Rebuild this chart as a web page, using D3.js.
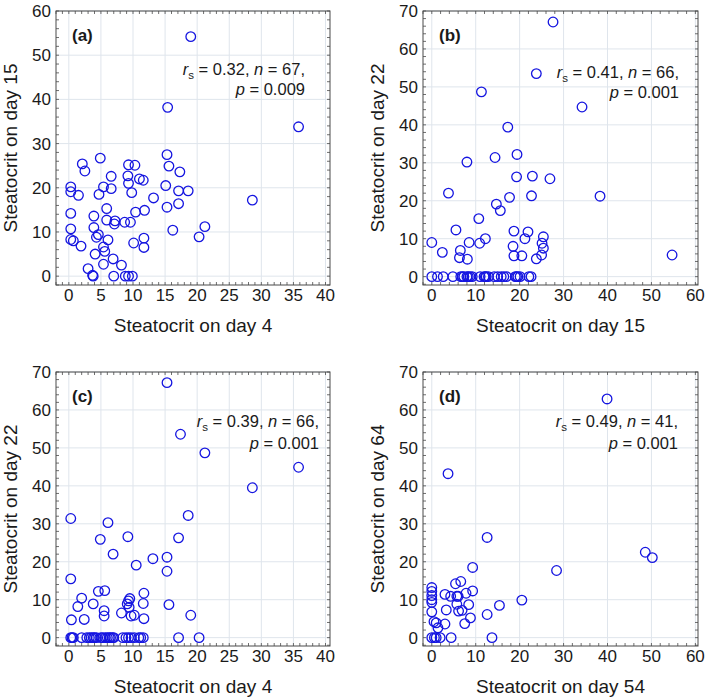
<!DOCTYPE html>
<html><head><meta charset="utf-8">
<script src="https://cdn.jsdelivr.net/npm/d3@7"></script>
<style>body{margin:0;background:#fff} svg{display:block;font-family:Arial,"Liberation Sans",sans-serif}</style>
</head><body>
<svg id="chart" width="709" height="698"></svg>
<script>
// ---- data ----
const aX = [19.0,15.4,35.8,15.3,15.6,17.3,15.1,15.3,17.1,17.1,18.6,16.2,20.3,21.2,28.6,13.2,11.8,11.6,11.0,11.7,11.7,10.1,10.4,10.3,9.3,9.2,9.3,9.8,9.6,8.7,7.2,7.1,5.9,5.9,6.6,6.6,5.4,4.7,4.9,2.1,2.5,0.3,0.3,1.5,0.3,0.3,0.3,0.7,1.9,3.9,3.9,4.3,4.6,6.1,5.4,5.6,4.1,6.9,5.4,8.2,3.0,3.7,3.8,7.0,8.8,9.3,9.9];
const aY = [54.2,38.2,33.8,27.5,24.9,23.6,20.5,15.6,16.4,19.3,19.3,10.4,8.9,11.2,17.2,17.7,14.9,21.7,22.0,8.6,6.5,7.5,14.5,25.1,25.2,22.7,21.0,18.9,12.2,12.2,12.5,11.8,15.3,12.7,22.6,19.8,20.2,18.5,26.7,25.4,23.8,20.2,19.1,18.3,14.2,10.7,8.3,8.0,6.8,13.6,11.0,8.8,9.4,8.2,6.6,5.6,5.0,3.9,2.7,2.5,1.7,0.2,0,0,0,0,0];

const bX = [27.6,23.8,11.3,34.2,17.3,8.0,14.4,19.4,19.3,22.9,26.9,3.8,38.3,22.7,17.7,14.7,15.6,10.7,5.5,18.7,21.9,25.4,21.2,12.2,10.9,8.5,0,2.4,6.5,6.3,8.1,18.5,18.7,20.5,23.8,25.0,25.1,25.4,54.7,
            0,1.3,2.6,4.8,6.6,7.0,7.3,8.0,8.3,8.7,9.2,11.0,11.9,12.2,12.4,12.9,14.2,15.0,15.8,16.4,17.0,19.0,19.3,19.6,20.1,22.1,22.6];
const bY = [67.1,53.5,48.7,44.7,39.4,30.2,31.4,32.2,26.3,26.5,25.8,22.0,21.2,21.3,20.9,19.1,17.4,15.3,12.3,12.0,11.8,10.5,10.0,10.0,8.8,9.0,9.0,6.4,6.9,5.0,4.6,8.0,5.5,5.5,4.7,5.7,8.8,7.5,5.7,
            0,0,0,0,0,0,0,0,0,0,0,0,0,0,0,0,0,0,0,0,0,0,0,0,0,0,0];

const cX = [15.3,17.4,21.2,35.8,28.6,18.6,0.3,6.1,4.9,9.2,17.1,6.9,13.1,15.3,10.5,15.3,0.3,4.6,5.6,11.7,2.0,9.5,9.3,3.8,9.1,11.6,15.6,1.4,9.4,5.5,8.2,5.5,9.7,10.2,19.0,0.4,2.4,11.7,
            0.3,0.5,0.7,2.0,2.8,3.2,3.5,3.8,4.0,4.3,5.0,5.3,5.7,6.0,6.3,6.5,6.8,7.0,8.4,8.9,9.3,9.7,10.2,10.9,11.2,11.6,17.1,20.3];
const cY = [67.2,53.6,48.7,44.9,39.5,32.2,31.4,30.3,25.9,26.6,26.3,22.0,20.8,21.2,19.1,17.5,15.5,12.2,12.4,11.7,10.4,10.3,9.7,8.9,8.9,9.0,8.7,8.2,8.0,7.1,6.5,5.7,5.7,5.9,5.9,4.7,4.8,5.0,
            0,0,0,0,0,0,0,0,0,0,0,0,0,0,0,0,0,0,0,0,0,0,0,0,0,0,0,0];

const dX = [39.9,3.7,12.6,28.4,48.6,50.2,9.3,20.5,15.4,12.6,13.7,9.3,6.6,5.4,7.8,5.7,4.3,3.0,8.4,5.7,3.3,6.1,6.9,8.8,7.5,3.0,0,0,0,0,0,0,1.0,1.4,0,1.0,1.9,4.4,0.6,0.5,6.0];
const dY = [62.9,43.2,26.4,17.7,22.5,21.1,18.5,9.9,8.5,6.1,0,12.3,14.8,14.2,11.7,10.9,10.9,11.4,8.7,8.8,7.3,7.0,7.2,5.2,3.7,3.6,13.2,12.2,11.1,10.0,9.3,6.8,3.9,2.6,0,0,0,0,0,4.2,10.9];

const panelLabels = ["(a)", "(b)", "(c)", "(d)"];
const xTitles = ["Steatocrit on day 4", "Steatocrit on day 15", "Steatocrit on day 4", "Steatocrit on day 54"];
const yTitles = ["Steatocrit on day 15", "Steatocrit on day 22", "Steatocrit on day 22", "Steatocrit on day 64"];
const rsValues = ["0.32", "0.41", "0.39", "0.49"];
const nValues = ["67", "66", "66", "41"];
const pValues = ["0.009", "0.001", "0.001", "0.001"];
const xTicks40 = [0, 5, 10, 15, 20, 25, 30, 35, 40];
const xTicks60 = [0, 10, 20, 30, 40, 50, 60];
const yTicks60 = [0, 10, 20, 30, 40, 50, 60];
const yTicks70 = [0, 10, 20, 30, 40, 50, 60, 70];

// ---- layout ----
const panels = [
  {xs: aX, ys: aY, L: 56,  R: 330, T: 11,  B: 285, xd: [-2, 40.7], yd: [-2, 60],   xt: xTicks40, yt: yTicks60, xm: 1, ym: 2, annR: 305, ann1: 75,  ann2: 95},
  {xs: bX, ys: bY, L: 423, R: 698, T: 11,  B: 285, xd: [-2, 60.6], yd: [-2.2, 70], xt: xTicks60, yt: yTicks70, xm: 2, ym: 2, annR: 679, ann1: 78,  ann2: 98},
  {xs: cX, ys: cY, L: 56,  R: 330, T: 372, B: 646, xd: [-2, 40.7], yd: [-2.2, 70], xt: xTicks40, yt: yTicks70, xm: 1, ym: 2, annR: 319, ann1: 427, ann2: 449},
  {xs: dX, ys: dY, L: 423, R: 698, T: 372, B: 646, xd: [-2, 60.6], yd: [-2.2, 70], xt: xTicks60, yt: yTicks70, xm: 2, ym: 2, annR: 678, ann1: 427, ann2: 449}
];

const svg = d3.select("#chart");
const textColor = "#1a1a1a";
const gridColor = "#dfe5ec";
const frameColor = "#4a4a4a";
const markColor = "#1515e0";

panels.forEach((p, i) => {
  const x = d3.scaleLinear().domain(p.xd).range([p.L, p.R]);
  const y = d3.scaleLinear().domain(p.yd).range([p.B, p.T]);
  const g = svg.append("g");

  // grid
  g.selectAll(".vg").data(p.xt).join("line")
    .attr("x1", d => x(d)).attr("x2", d => x(d)).attr("y1", p.T).attr("y2", p.B)
    .attr("stroke", gridColor).attr("stroke-width", 1);
  g.selectAll(".hg").data(p.yt).join("line")
    .attr("y1", d => y(d)).attr("y2", d => y(d)).attr("x1", p.L).attr("x2", p.R)
    .attr("stroke", gridColor).attr("stroke-width", 1);

  // minor ticks (inward on all sides)
  const xm = d3.range(Math.ceil(p.xd[0] / p.xm) * p.xm, p.xd[1] + 1e-9, p.xm);
  const ym = d3.range(Math.ceil(p.yd[0] / p.ym) * p.ym, p.yd[1] + 1e-9, p.ym);
  const tk = g.append("g").attr("stroke", frameColor).attr("stroke-width", 0.8);
  xm.forEach(v => {
    tk.append("line").attr("x1", x(v)).attr("x2", x(v)).attr("y1", p.B).attr("y2", p.B - 3);
    tk.append("line").attr("x1", x(v)).attr("x2", x(v)).attr("y1", p.T).attr("y2", p.T + 3);
  });
  ym.forEach(v => {
    tk.append("line").attr("y1", y(v)).attr("y2", y(v)).attr("x1", p.L).attr("x2", p.L + 3);
    tk.append("line").attr("y1", y(v)).attr("y2", y(v)).attr("x1", p.R).attr("x2", p.R - 3);
  });

  // frame
  g.append("rect").attr("x", p.L).attr("y", p.T).attr("width", p.R - p.L).attr("height", p.B - p.T)
    .attr("fill", "none").attr("stroke", frameColor).attr("stroke-width", 1);

  // tick labels
  g.selectAll(".xl").data(p.xt).join("text")
    .attr("x", d => x(d)).attr("y", p.B + 16)
    .attr("text-anchor", "middle").attr("font-size", 17).attr("fill", textColor)
    .text(d => d);
  g.selectAll(".yl").data(p.yt).join("text")
    .attr("x", p.L - 5).attr("y", d => y(d) + 6)
    .attr("text-anchor", "end").attr("font-size", 17).attr("fill", textColor)
    .text(d => d);

  // axis titles
  g.append("text").attr("x", (p.L + p.R) / 2).attr("y", p.B + 46.5)
    .attr("text-anchor", "middle").attr("font-size", 19).attr("fill", textColor)
    .text(xTitles[i]);
  g.append("text")
    .attr("transform", `translate(${p.L - 39},${(p.T + p.B) / 2}) rotate(-90)`)
    .attr("text-anchor", "middle").attr("font-size", 19).attr("fill", textColor)
    .text(yTitles[i]);

  // panel label
  g.append("text").attr("x", p.L + 16).attr("y", p.T + 30)
    .attr("font-size", 17).attr("font-weight", "bold").attr("fill", textColor)
    .text(panelLabels[i]);

  // annotation
  const t1 = g.append("text").attr("x", p.annR).attr("y", p.ann1)
    .attr("text-anchor", "end").attr("font-size", 16.5).attr("fill", textColor);
  t1.append("tspan").attr("font-style", "italic").text("r");
  t1.append("tspan").attr("font-size", 11.5).attr("dy", 4).text("s");
  t1.append("tspan").attr("dy", -4).text(` = ${rsValues[i]}, `);
  t1.append("tspan").attr("font-style", "italic").text("n");
  t1.append("tspan").text(` = ${nValues[i]},`);
  const t2 = g.append("text").attr("x", p.annR).attr("y", p.ann2)
    .attr("text-anchor", "end").attr("font-size", 16.5).attr("fill", textColor);
  t2.append("tspan").attr("font-style", "italic").text("p");
  t2.append("tspan").text(` = ${pValues[i]}`);

  // points
  const pts = p.xs.map((v, k) => [v, p.ys[k]]);
  g.selectAll(".pt").data(pts).join("circle")
    .attr("cx", d => x(d[0])).attr("cy", d => y(d[1])).attr("r", 4.8)
    .attr("fill", "none").attr("stroke", markColor).attr("stroke-width", 1.3);
});
</script>
</body></html>
